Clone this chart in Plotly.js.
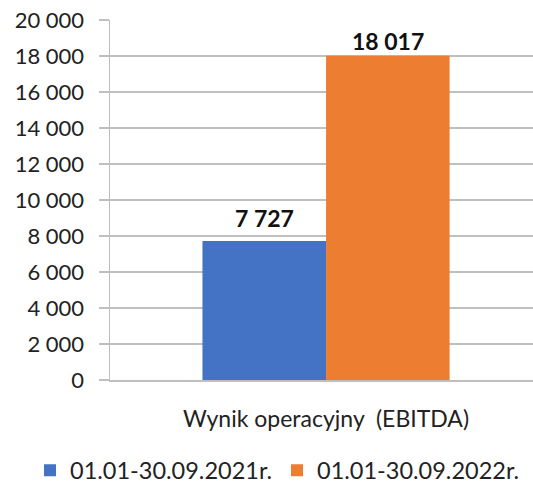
<!DOCTYPE html>
<html>
<head>
<meta charset="utf-8">
<script src="https://cdn.plot.ly/plotly-3.0.1.min.js"></script>
<style>html,body{margin:0;padding:0;background:#fff;}</style>
</head>
<body>
<div id="chart" style="width:533px;height:485px;"></div>
<script>
const categories = ["Wynik operacyjny \u00A0(EBITDA)"];
const seriesNames = ["01.01-30.09.2021r.", "01.01-30.09.2022r."];
const values2021 = [7727];
const values2022 = [18017];
const valueLabels2021 = ["7 727"];
const valueLabels2022 = ["18 017"];
const yTickVals = [0, 2000, 4000, 6000, 8000, 10000, 12000, 14000, 16000, 18000, 20000];
const yTickText = ["0", "2 000", "4 000", "6 000", "8 000", "10 000", "12 000", "14 000", "16 000", "18 000", "20 000"];

const FONT = "Lato, 'Open Sans', sans-serif";
const TXT = "#222222";
const GRID = "#bfbfbf";

const traces = [
  {type: "bar", name: seriesNames[0], x: categories, y: values2021, legend: "legend",
   marker: {color: "#4472c4"}, hoverinfo: "skip"},
  {type: "bar", name: seriesNames[1], x: categories, y: values2022, legend: "legend2",
   marker: {color: "#ed7d31"}, hoverinfo: "skip"}
];

const annotations = [
  {x: categories[0], y: values2021[0], xref: "x", yref: "y", text: "<b>" + valueLabels2021[0] + "</b>",
   showarrow: false, xshift: -62, yshift: 23, font: {family: FONT, size: 23, color: "#111"}},
  {x: categories[0], y: values2022[0], xref: "x", yref: "y", text: "<b>" + valueLabels2022[0] + "</b>",
   showarrow: false, xshift: 62, yshift: 15, font: {family: FONT, size: 23, color: "#111"}}
];

const legendBase = {orientation: "h", xref: "container", yref: "container", xanchor: "left",
                    y: 0.03, yanchor: "middle", font: {family: FONT, size: 23.5, color: TXT},
                    itemwidth: 30, bgcolor: "rgba(0,0,0,0)", borderwidth: 0};

const layout = {
  width: 533, height: 485,
  margin: {l: 110, r: 0, t: 20, b: 105, autoexpand: false},
  paper_bgcolor: "#fff", plot_bgcolor: "#fff",
  font: {family: FONT, size: 21, color: TXT},
  barmode: "group", bargap: 0.428, bargroupgap: 0,
  showlegend: true,
  legend: Object.assign({}, legendBase, {x: 30 / 533}),
  legend2: Object.assign({}, legendBase, {x: 277 / 533}),
  xaxis: {type: "category", range: [-0.5, 0.479], showline: true, linecolor: GRID, linewidth: 1.5,
          ticks: "", showgrid: false, ticklabelstandoff: 18, tickfont: {family: FONT, size: 23, color: TXT},
          fixedrange: true, automargin: false},
  yaxis: {range: [0, 20000], tickvals: yTickVals, ticktext: yTickText, showline: true, linecolor: GRID, linewidth: 1.5,
          ticks: "outside", ticklen: 10, tickcolor: GRID, tickwidth: 1.5, showgrid: true, gridcolor: GRID, gridwidth: 1.5,
          zeroline: false, ticklabelstandoff: 10, tickfont: {family: FONT, size: 22, color: TXT}, fixedrange: true,
          automargin: false},
  annotations: annotations
};

Plotly.newPlot("chart", traces, layout, {displayModeBar: false, staticPlot: true});
</script>
</body>
</html>
